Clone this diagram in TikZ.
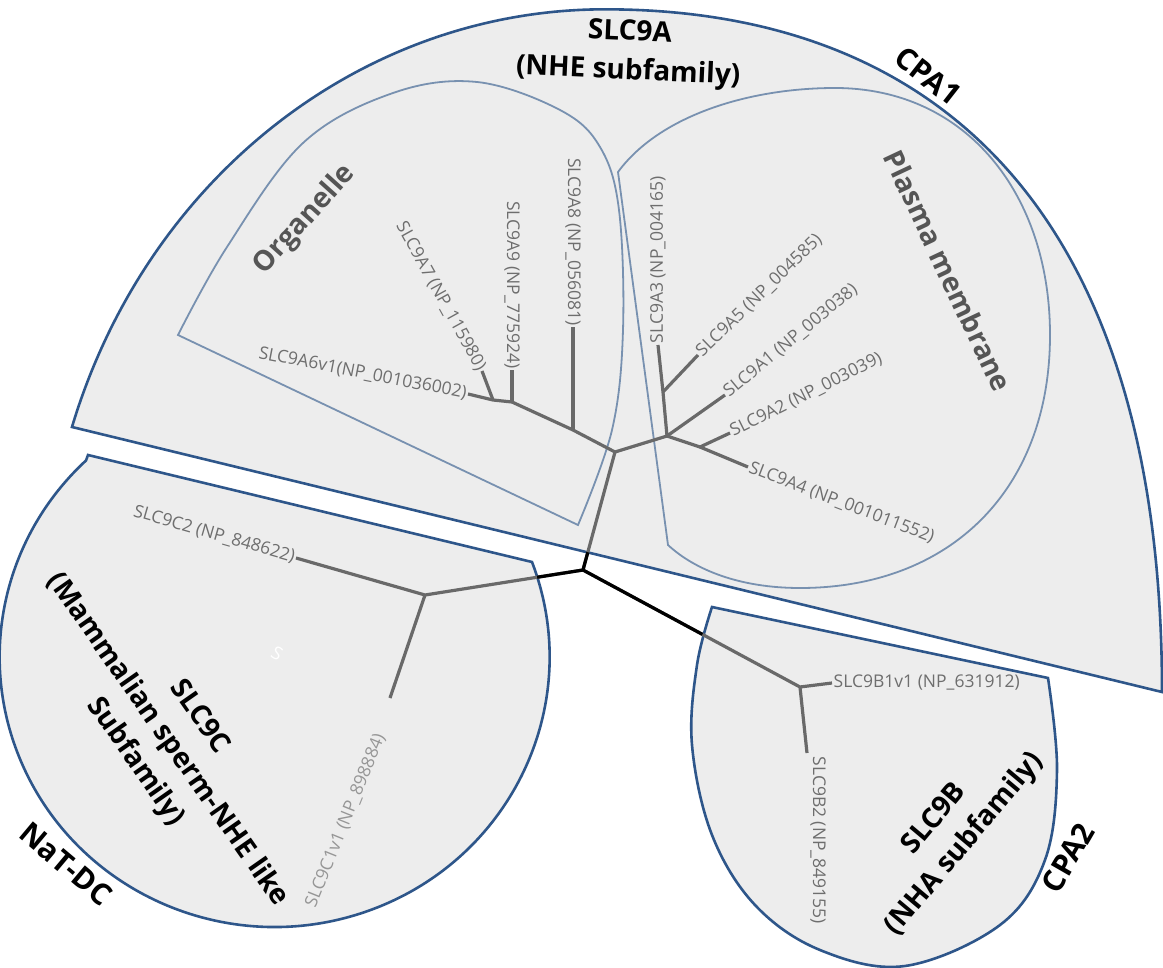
\documentclass[tikz,border=0pt]{standalone}
\usepackage{fontspec}
\setmainfont{Open Sans}
\usetikzlibrary{calc}
\definecolor{outblue}{RGB}{46,86,138}
\definecolor{inblue}{RGB}{120,145,176}
\definecolor{shade}{RGB}{237,237,237}
\definecolor{brgray}{RGB}{105,105,105}
\definecolor{lblgray}{RGB}{110,110,110}
\definecolor{lightlbl}{RGB}{150,150,150}
\definecolor{grplbl}{RGB}{85,85,85}
\tikzset{
  grp/.style={draw=outblue, line width=2.6pt, fill=shade, line join=miter},
  subgrp/.style={draw=inblue, line width=1.8pt, fill=shade, line join=miter},
  br/.style={draw=brgray, line width=3.2pt, line join=round},
  rootbr/.style={draw=black, line width=3.2pt, line join=round},
  lbl/.style={text=lblgray, font=\fontsize{17.5}{20}\selectfont, inner sep=1.5pt},
  biglbl/.style={font=\fontsize{28}{39}\selectfont\bfseries, align=center, inner sep=0pt},
  famlbl/.style={font=\fontsize{30}{36}\selectfont\bfseries, inner sep=0pt},
}
\begin{document}
\begin{tikzpicture}[x=1pt,y=-1pt]
\useasboundingbox[fill=white] (0,0) rectangle (1163,968);

% ---- group shapes ----
\draw[grp] (1162,692) -- (72,427) arc[start angle=197.9, end angle=270, x radius=560, y radius=603] .. controls +(315,0) and +(0,-500) .. (1162,692) -- cycle;
\draw[subgrp] (578,525) -- (178,335) -- plot[smooth, tension=0.6] coordinates {(178,335) (227,247) (303,143) (393,93) (477,82) (560,110) (600,147) (619,210) (623,330) (612,430) (578,525)} -- cycle;
\draw[subgrp] (668,545) -- (618,172) .. controls (660,115) and (750,88) .. (835,88) .. controls (967,88) and (1050,195) .. (1050,335) .. controls (1050,490) and (950,588) .. (800,588) .. controls (740,588) and (695,570) .. (668,545) -- cycle;
\draw[grp] (88,455) -- (532,562) arc[start angle=-20.6, end angle=226.7, x radius=275, y radius=270] -- cycle;
\draw[grp] (712,607) -- (1048,678) -- plot[smooth, tension=0.6] coordinates {(1048,678) (1057,770) (1045,860) (1000,925) (905,966) (820,950) (755,905) (712,835) (692,745) (697,665) (712,607)} -- cycle;

% ---- tree coordinates ----
\coordinate (root) at (583,570);
\coordinate (nA) at (615,452);
\coordinate (nC) at (425,595);
\coordinate (nB) at (800,687);
\coordinate (o1) at (573,430);
\coordinate (o2) at (512,402);
\coordinate (o3) at (493,400);
\coordinate (tA8) at (573,327);
\coordinate (tA9) at (512,370);
\coordinate (tA7) at (482,371);
\coordinate (tA6) at (468,394);
\coordinate (p) at (667,436);
\coordinate (q) at (663,392);
\coordinate (r) at (700,447);
\coordinate (tA3) at (658,345);
\coordinate (tA5) at (698,355);
\coordinate (tA1) at (725,395);
\coordinate (tA2) at (730,433);
\coordinate (tA4) at (748,467);
\coordinate (tC2) at (296,558);
\coordinate (tC1) at (390,698);
\coordinate (tB1) at (832,683);
\coordinate (tB2) at (807,753);

% ---- tree branches ----
\draw[br] (root) -- (nA) -- (o1) -- (o2) -- (o3) -- (tA6);
\draw[br] (o1) -- (tA8);
\draw[br] (o2) -- (tA9);
\draw[br] (o3) -- (tA7);
\draw[br] (nA) -- (p) -- (q) -- (tA3);
\draw[br] (q) -- (tA5);
\draw[br] (p) -- (tA1);
\draw[br] (p) -- (r) -- (tA2);
\draw[br] (r) -- (tA4);
\draw[br] (root) -- (nC) -- (tC2);
\draw[br] (nC) -- (tC1);
\draw[br] (root) -- (nB) -- (tB1);
\draw[br] (nB) -- (tB2);
\draw[rootbr] ($(root)!0.15!(nA)$) -- (root) -- ($(root)!0.29!(nC)$);
\draw[rootbr] (root) -- ($(root)!0.55!(nB)$);

% ---- leaf labels ----
\node[lbl, anchor=east, rotate=-11] (lA6) at (tA6) {SLC9A6v1(NP\_001036002)};
\node[lbl, anchor=east, rotate=-61] (lA7) at (tA7) {SLC9A7 (NP\_115980)};
\node[lbl, anchor=east, rotate=-90] (lA9) at (tA9) {SLC9A9 (NP\_775924)};
\node[lbl, anchor=east, rotate=-90] (lA8) at (tA8) {SLC9A8 (NP\_056081)};
\node[lbl, anchor=west, rotate=90] (lA3) at (tA3) {SLC9A3 (NP\_004165)};
\node[lbl, anchor=west, rotate=44] (lA5) at (tA5) {SLC9A5 (NP\_004585)};
\node[lbl, anchor=west, rotate=39.5] (lA1) at (tA1) {SLC9A1 (NP\_003038)};
\node[lbl, anchor=west, rotate=26.5] (lA2) at (tA2) {SLC9A2 (NP\_003039)};
\node[lbl, anchor=west, rotate=-21] (lA4) at (tA4) {SLC9A4 (NP\_001011552)};
\node[lbl, anchor=east, rotate=-16] (lC2) at (tC2) {SLC9C2 (NP\_848622)};
\node[lbl, text=lightlbl, anchor=east, rotate=68] (lC1) at (381,733) {SLC9C1v1 (NP\_898884)};
\node[lbl, anchor=west] (lB1) at (tB1) {SLC9B1v1 (NP\_631912)};
\node[lbl, anchor=west, rotate=-90] (lB2) at (818,755) {SLC9B2 (NP\_849155)};

% ---- group labels ----
\node[biglbl, rotate=-2.5] (gA) at (629,53) {SLC9A\\(NHE subfamily)};
\node[famlbl, rotate=-38] (cpa1) at (928,76) {CPA1};
\node[biglbl, text=grplbl, rotate=48] (org) at (305,220) {Organelle};
\node[biglbl, text=grplbl, rotate=-64.8] (pm) at (948,271) {Plasma membrane};
\node[biglbl, rotate=-55] (gC) at (167,740) {SLC9C\\(Mammalian sperm-NHE like\\Subfamily)};
\node[famlbl, rotate=-40] (natdc) at (66,864) {NaT-DC};
\node[biglbl, rotate=50] (gB) at (950,832) {SLC9B\\(NHA subfamily)};
\node[famlbl, rotate=60] (cpa2) at (1068,858) {CPA2};
\node[text=white, font=\fontsize{18}{18}\selectfont, rotate=-30, inner sep=0pt] (mark) at (277,653) {S};
\end{tikzpicture}
\end{document}
